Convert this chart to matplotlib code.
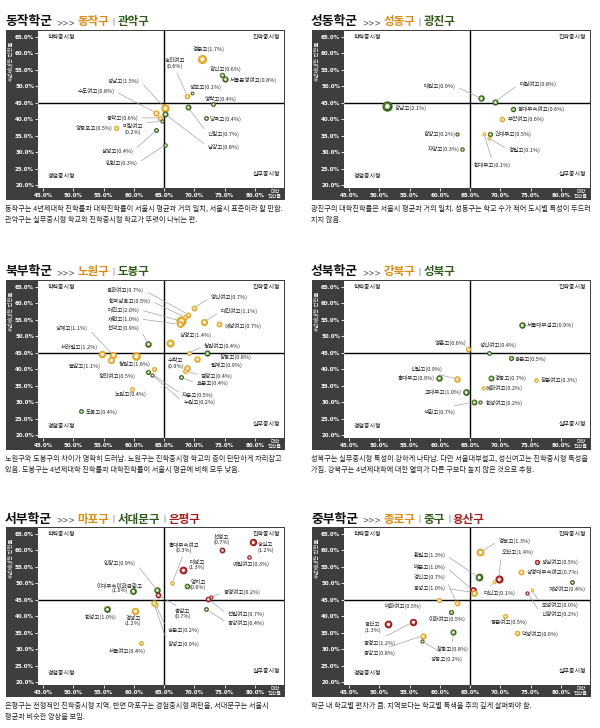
import matplotlib
matplotlib.use('Agg')
import matplotlib.pyplot as plt
from matplotlib.patches import Rectangle
from matplotlib import font_manager as fm

plt.rcParams['font.family'] = ['Noto Sans CJK KR', 'DejaVu Sans']

# ---------------- data ----------------
SEOUL_AVG_X = 65.0
SEOUL_AVG_Y = 45.0
X_TICKS = [45, 50, 55, 60, 65, 70, 75, 80]
Y_TICKS = [20, 25, 30, 35, 40, 45, 50, 55, 60, 65]
QUADRANTS = ['학력중시형', '진학중시형', '경험중시형', '실무중시형']
X_AXIS_LABEL = '대학\n진학률'
Y_AXIS_LABEL = '4년제대학 진학률'

P1_TITLE = '동작학군'
P1_DISTRICTS = ['동작구', '관악구']
P1_NAMES = ['경문고', '숭의여고', '광신고', '서울문영여고', '성보고', '영락고', '당곡고', '신림고',
            '남강고', '성남고', '수도여고', '동작고', '미림여고', '영등포고', '삼성고', '인헌고']
P1_PCT = [1.7, 0.6, 0.6, 0.8, 0.1, 0.4, 0.4, 0.7, 0.8, 1.5, 0.8, 0.6, 0.2, 0.5, 0.4, 0.3]
P1_X = [71.2, 68.8, 74.6, 75.1, 69.6, 73.0, 71.9, 68.9, 65.2, 65.1, 63.6, 64.4, 64.6, 57.1, 63.7, 65.1]
P1_Y = [58.4, 47.2, 53.4, 52.3, 47.9, 44.7, 40.3, 43.7, 41.5, 43.5, 42.0, 40.4, 39.4, 37.2, 36.6, 32.1]
P1_GROUP = [0, 0, 1, 1, 1, 1, 1, 1, 1, 0, 0, 0, 1, 0, 1, 1]
P1_CAPTION = ['동작구는 4년제대학 진학률과 대학진학률이 서울시 평균과 거의 일치, 서울시 표준이라 할 만함.',
              '관악구는 실무중시형 학교와 진학중시형 학교가 뚜렷이 나뉘는 편.']

P2_TITLE = '성동학군'
P2_DISTRICTS = ['성동구', '광진구']
P2_NAMES = ['광남고', '대원고', '대원여고', '동대부속여고', '무학여고', '광양고', '자양고', '건대부고',
            '한대부고', '경일고']
P2_PCT = [2.1, 0.9, 0.8, 0.6, 0.6, 0.2, 0.3, 0.5, 0.1, 0.1]
P2_X = [51.2, 66.8, 69.1, 72.0, 70.2, 62.9, 63.7, 68.3, 67.3, 68.1]
P2_Y = [44.0, 46.3, 45.3, 43.0, 40.2, 35.5, 31.1, 35.5, 35.5, 34.2]
P2_GROUP = [1, 1, 1, 1, 0, 1, 1, 1, 0, 0]
P2_CAPTION = ['광진구의 대학진학률은 서울시 평균과 거의 일치. 성동구는 학교 수가 적어 도시별 특성이 두드러',
              '지지 않음.']

P3_TITLE = '북부학군'
P3_DISTRICTS = ['노원구', '도봉구']
P3_NAMES = ['용화여고', '한국삼육고', '대진고', '재현고', '선덕고', '영신여고', '대진여고', '해성여고',
            '상명고', '상계고', '서라벌고', '불암고', '청원고', '정의여고', '노원고', '도봉고',
            '청원여고', '창동고', '월계고', '수락고', '염광고', '효문고', '자운고', '누원고']
P3_PCT = [0.7, 0.5, 2.0, 1.0, 0.9, 0.7, 1.1, 0.7, 1.4, 1.1, 1.2, 1.1, 1.6, 0.5, 0.4, 0.4,
          0.4, 0.8, 0.9, 0.9, 0.4, 0.4, 0.5, 0.2]
P3_X = [69.0, 68.4, 67.8, 67.6, 62.4, 70.0, 71.6, 74.1, 65.9, 56.6, 54.7, 56.3, 60.3, 63.3, 59.7, 51.2,
        69.1, 72.0, 70.5, 68.8, 68.5, 67.8, 62.4, 63.0]
P3_Y = [56.6, 55.8, 54.6, 53.6, 47.7, 58.7, 54.4, 53.6, 48.0, 44.3, 44.7, 42.7, 44.0, 40.1, 34.1, 27.2,
        45.0, 44.8, 43.2, 40.4, 39.6, 37.6, 39.2, 38.3]
P3_GROUP = [0, 0, 0, 0, 1, 0, 0, 0, 0, 0, 0, 0, 0, 0, 0, 1, 0, 1, 0, 0, 0, 1, 1, 1]
P3_CAPTION = ['노원구와 도봉구의 차이가 명확히 드러남. 노원구는 진학중시형 학교의 층이 탄탄하게 자리잡고',
              '있음. 도봉구는 4년제대학 진학률과 대학진학률이 서울시 평균에 비해 모두 낮음.']

P4_TITLE = '성북학군'
P4_DISTRICTS = ['강북구', '성북구']
P4_NAMES = ['서울대부설고', '영훈고', '성신여고', '용문고', '신일고', '홍대부고', '경동고', '창문여고',
            '혜화여고', '고대부고', '석관고', '한성여고']
P4_PCT = [0.9, 0.6, 0.4, 0.5, 0.9, 0.9, 0.7, 0.3, 0.2, 1.0, 0.7, 0.2]
P4_X = [73.5, 64.6, 68.2, 71.7, 62.8, 59.9, 68.4, 75.9, 67.1, 64.3, 65.6, 66.7]
P4_Y = [53.3, 46.2, 45.0, 43.5, 37.1, 37.4, 37.4, 36.6, 34.4, 33.0, 30.1, 29.9]
P4_GROUP = [1, 0, 1, 1, 0, 1, 1, 0, 0, 1, 1, 1]
P4_CAPTION = ['성북구는 실무중시형 특성이 강하게 나타남. 다만 서울대부설고, 성신여고는 진학중시형 특성을',
              '가짐. 강북구는 4년제대학에 대한 열의가 다른 구보다 높지 않은 것으로 추정.']

P5_TITLE = '서부학군'
P5_DISTRICTS = ['마포구', '서대문구', '은평구']
P5_NAMES = ['선정고', '숭실고', '예일여고', '홍대부속여고', '대성고', '명지고', '동명여고', '선일여고',
            '중앙여고', '인창고', '이대부속이화금란고', '충암고', '숭문고', '광성고', '한성고', '경성고',
            '서울여고']
P5_PCT = [0.7, 1.2, 0.3, 0.3, 1.3, 0.6, 0.2, 0.7, 0.4, 0.9, 1.0, 0.7, 0.2, 0.9, 1.0, 1.2, 0.4]
P5_X = [74.5, 79.6, 79.0, 66.3, 68.1, 68.7, 72.8, 72.3, 71.9, 63.8, 59.8, 64.0, 63.6, 63.3, 55.5, 60.2, 61.1]
P5_Y = [60.1, 62.4, 58.1, 50.0, 54.1, 49.3, 45.7, 45.2, 42.2, 48.0, 47.6, 46.4, 43.5, 43.9, 42.2, 41.7, 31.8]
P5_GROUP = [2, 2, 2, 0, 2, 1, 2, 2, 1, 1, 1, 2, 0, 0, 1, 0, 0]
P5_CAPTION = ['은평구는 전형적인 진학중시형 지역. 반면 마포구는 경험중시형 패턴을, 서대문구는 서울시',
              '평균과 비슷한 양상을 보임.']

P6_TITLE = '중부학군'
P6_DISTRICTS = ['종로구', '중구', '용산구']
P6_NAMES = ['경복고', '오산고', '성심여고', '상명대부속여고', '계성여고', '환일고', '배문고', '경신고',
            '동성고', '대신고', '보성여고', '신광여고', '배화여고', '이화여고', '용산고', '중경고',
            '중앙고', '성동고', '장충고', '풍문여고', '덕성여고']
P6_PCT = [1.3, 1.4, 0.5, 0.7, 0.4, 1.3, 1.0, 0.7, 1.0, 0.1, 0.0, 0.2, 0.5, 0.5, 1.3, 1.2,
          0.8, 0.2, 0.8, 0.5, 0.6]
P6_X = [66.7, 69.7, 76.0, 73.4, 81.8, 66.4, 65.4, 62.8, 65.6, 68.9, 75.2, 74.4, 59.8, 61.9, 51.5, 55.6,
        57.2, 57.0, 62.2, 70.8, 72.7]
P6_Y = [59.4, 51.3, 56.6, 53.5, 50.5, 51.8, 48.0, 43.9, 47.2, 50.3, 47.9, 47.2, 44.9, 41.4, 37.6, 38.3,
        34.1, 32.5, 35.1, 40.1, 34.8]
P6_GROUP = [0, 2, 2, 0, 1, 1, 2, 0, 0, 0, 0, 2, 0, 1, 2, 2, 0, 1, 1, 0, 0]
P6_CAPTION = ['학군 내 학교별 편차가 큼. 지역보다는 학교별 특색을 주의 깊게 살펴봐야 함.']

# ---------------- layout (label placement: x, y, ha, leader line, two lines) ----------------
P1_LBL = [(72.4, 61.2, 'center', 0, 0), (66.8, 56.9, 'center', 1, 1), (75.1, 55.3, 'center', 0, 0),
          (75.9, 51.8, 'left', 0, 0), (71.9, 49.8, 'center', 0, 0), (74.3, 46.3, 'center', 0, 0),
          (72.5, 40.2, 'left', 0, 0), (72.2, 35.6, 'left', 1, 0), (72.2, 31.7, 'left', 1, 0),
          (61.0, 51.6, 'right', 1, 0), (56.8, 48.5, 'right', 1, 0), (60.7, 40.4, 'right', 1, 0),
          (59.8, 36.9, 'center', 1, 1), (56.4, 37.2, 'right', 0, 0), (59.9, 30.4, 'right', 1, 0),
          (60.6, 26.6, 'right', 1, 0)]
P2_LBL = [(52.6, 43.4, 'left', 0, 0), (62.5, 50.1, 'right', 1, 0), (73.1, 50.6, 'left', 1, 0),
          (72.8, 43.0, 'left', 0, 0), (71.2, 40.1, 'left', 0, 0), (62.6, 35.4, 'right', 0, 0),
          (63.2, 30.9, 'right', 0, 0), (69.0, 35.4, 'left', 0, 0), (68.7, 26.1, 'center', 1, 0),
          (71.4, 30.7, 'left', 1, 0)]
P3_LBL = [(61.7, 64.0, 'right', 1, 0), (62.8, 60.8, 'right', 1, 0), (60.9, 58.1, 'right', 1, 0),
          (60.9, 55.3, 'right', 1, 0), (60.9, 52.5, 'right', 1, 0), (72.7, 61.8, 'left', 1, 0),
          (74.4, 57.6, 'left', 1, 0), (75.0, 53.2, 'left', 0, 0), (67.5, 50.4, 'left', 0, 0),
          (52.4, 52.4, 'right', 1, 0), (54.0, 46.8, 'right', 0, 0), (54.5, 41.0, 'right', 0, 0),
          (60.1, 41.6, 'center', 0, 0), (57.3, 38.0, 'center', 0, 0), (59.4, 32.6, 'center', 0, 0),
          (52.1, 27.1, 'left', 0, 0), (71.6, 47.1, 'left', 1, 0), (74.1, 43.6, 'left', 0, 0),
          (72.7, 41.3, 'left', 0, 0), (66.9, 41.7, 'center', 0, 1), (71.1, 38.0, 'left', 1, 0),
          (70.4, 35.6, 'left', 1, 0), (68.0, 32.3, 'left', 1, 0), (68.2, 29.9, 'left', 1, 0)]
P4_LBL = [(74.4, 53.3, 'left', 0, 0), (61.7, 48.0, 'center', 0, 0), (69.7, 47.3, 'center', 0, 0),
          (72.4, 43.0, 'left', 0, 0), (57.8, 40.2, 'center', 1, 0), (59.2, 37.4, 'right', 0, 0),
          (69.0, 37.4, 'left', 0, 0), (76.6, 36.6, 'left', 0, 0), (67.6, 34.4, 'left', 0, 0),
          (63.6, 33.0, 'right', 0, 0), (60.0, 27.0, 'center', 1, 0), (67.5, 29.7, 'left', 0, 0)]
P5_LBL = [(74.5, 63.1, 'center', 0, 1), (80.4, 60.9, 'left', 0, 1), (79.3, 56.0, 'center', 0, 0),
          (68.3, 60.9, 'center', 1, 1), (69.1, 55.8, 'left', 0, 1), (69.2, 49.5, 'left', 0, 1),
          (74.8, 47.4, 'left', 1, 0), (75.5, 40.6, 'left', 1, 0), (75.5, 37.9, 'left', 1, 0),
          (60.3, 56.1, 'right', 1, 0), (57.6, 48.6, 'center', 0, 1), (68.0, 40.6, 'center', 1, 1),
          (65.6, 35.6, 'left', 1, 0), (65.6, 31.7, 'left', 1, 0), (54.6, 39.9, 'center', 0, 0),
          (59.9, 38.6, 'center', 0, 1), (58.9, 29.3, 'center', 0, 0)]
P6_LBL = [(69.7, 62.9, 'left', 1, 0), (70.2, 59.4, 'left', 1, 0), (76.8, 56.6, 'left', 0, 0),
          (74.3, 53.5, 'left', 0, 0), (81.1, 48.4, 'center', 0, 0), (60.9, 58.7, 'right', 1, 0),
          (60.9, 55.1, 'right', 1, 0), (60.9, 51.8, 'right', 1, 0), (60.9, 48.5, 'right', 1, 0),
          (67.3, 47.2, 'left', 1, 0), (76.8, 43.5, 'left', 1, 0), (76.8, 40.6, 'left', 1, 0),
          (57.0, 43.2, 'right', 0, 0), (58.1, 39.1, 'left', 0, 0), (48.9, 36.6, 'center', 0, 1),
          (50.1, 32.0, 'center', 1, 0), (50.1, 28.8, 'center', 1, 0), (61.1, 27.0, 'center', 1, 0),
          (62.1, 30.0, 'center', 1, 0), (71.5, 38.1, 'center', 0, 0), (73.5, 34.6, 'left', 0, 0)]

PANELS = [
    (P1_TITLE, P1_DISTRICTS, P1_NAMES, P1_PCT, P1_X, P1_Y, P1_GROUP, P1_CAPTION, P1_LBL, [0, 1]),
    (P2_TITLE, P2_DISTRICTS, P2_NAMES, P2_PCT, P2_X, P2_Y, P2_GROUP, P2_CAPTION, P2_LBL, [0, 1]),
    (P3_TITLE, P3_DISTRICTS, P3_NAMES, P3_PCT, P3_X, P3_Y, P3_GROUP, P3_CAPTION, P3_LBL, [0, 1]),
    (P4_TITLE, P4_DISTRICTS, P4_NAMES, P4_PCT, P4_X, P4_Y, P4_GROUP, P4_CAPTION, P4_LBL, [0, 1]),
    (P5_TITLE, P5_DISTRICTS, P5_NAMES, P5_PCT, P5_X, P5_Y, P5_GROUP, P5_CAPTION, P5_LBL, [0, 1, 2]),
    (P6_TITLE, P6_DISTRICTS, P6_NAMES, P6_PCT, P6_X, P6_Y, P6_GROUP, P6_CAPTION, P6_LBL, [0, 1, 2]),
]
ORIGINS = [(6, 30), (312, 30), (6, 280), (312, 280), (6, 527), (312, 527)]

GROUP_COLORS = ['#E3A41C', '#356619', '#A3191C']
INNER_COLORS = ['#F2C453', '#7FAA3C', '#D0453F']
TITLE_COLORS = ['#E08B10', '#2E5C17', '#A31C1C']
DARK = '#3e3e3e'

W, H = 600, 728
fig = plt.figure(figsize=(6, 7.28), dpi=100)
fig.patch.set_facecolor('white')
renderer = fig.canvas.get_renderer()

# condensed bold font for the tick labels if one is installed; size fitted to a target width
_narrow = [f for f in fm.fontManager.ttflist
           if ('Narrow' in f.name or 'Condensed' in f.fname) and f.weight in ('bold', 700)]
if _narrow:
    TICK_FP = fm.FontProperties(fname=_narrow[0].fname, size=10)
else:
    TICK_FP = fm.FontProperties(family='Liberation Sans', weight='bold', size=10)
_t = fig.text(0, 0, '65.0%', fontproperties=TICK_FP)
_w = _t.get_window_extent(renderer).width
_t.remove()
TICK_FP.set_size(min(6.0, 10 * 19.0 / _w))


def fx(px):
    return px / W


def fy(py):
    return 1 - py / H


def draw_title(FL, FT, title, districts, cols):
    y = fy(FT - 8)
    x = FL - 1
    t = fig.text(fx(x), y, title, fontsize=9.2, fontweight='bold', color='#111111', ha='left', va='center')
    x += t.get_window_extent(renderer).width + 4
    t = fig.text(fx(x), y - 0.001, '>>>', fontsize=5.5, color='#555555', ha='left', va='center',
                 family=['DejaVu Sans'])
    x += t.get_window_extent(renderer).width + 3
    for i, d in enumerate(districts):
        if i > 0:
            t = fig.text(fx(x), y, '|', fontsize=5, color='#444444', ha='left', va='center')
            x += t.get_window_extent(renderer).width + 3
        t = fig.text(fx(x), y, d, fontsize=8.3, fontweight='bold', color=TITLE_COLORS[cols[i]],
                     ha='left', va='center')
        x += t.get_window_extent(renderer).width + 3


def make_panel(FL, FT, spec):
    title, districts, names, pct, xs, ys, grp, caption, lbl, cols = spec
    fig.add_artist(Rectangle((fx(FL), fy(FT + 170)), 279 / W, 170 / H, transform=fig.transFigure,
                             facecolor=DARK, edgecolor='none', zorder=-1))
    ax = fig.add_axes([fx(FL + 32), fy(FT + 158), 246 / W, 157 / H])
    ax.set_facecolor('white')
    ax.set_xlim(44.17, 84.8)
    ax.set_ylim(19.1, 66.8)
    for s in ax.spines.values():
        s.set_visible(False)
    ax.set_xticks(X_TICKS)
    ax.set_xticklabels([f'{v:.1f}%' for v in X_TICKS])
    ax.set_yticks(Y_TICKS)
    ax.set_yticklabels([f'{v:.1f}%' for v in Y_TICKS])
    ax.tick_params(axis='both', direction='out', length=2, width=0.6, color='white',
                   labelcolor='white', pad=0.8)
    ax.tick_params(axis='x', pad=1.3)
    for t in ax.get_xticklabels() + ax.get_yticklabels():
        t.set_fontproperties(TICK_FP)

    ax.axvline(SEOUL_AVG_X, color='black', lw=1.0, zorder=1)
    ax.axhline(SEOUL_AVG_Y, color='black', lw=1.0, zorder=1)

    qkw = dict(transform=ax.transAxes, fontsize=4.3, color='#1a1a1a', va='center')
    ax.text(0.04, 0.958, QUADRANTS[0], ha='left', **qkw)
    ax.text(0.985, 0.958, QUADRANTS[1], ha='right', **qkw)
    ax.text(0.04, 0.075, QUADRANTS[2], ha='left', **qkw)
    ax.text(0.985, 0.085, QUADRANTS[3], ha='right', **qkw)

    fig.text(fx(FL + 5), fy(FT + 31), Y_AXIS_LABEL, rotation=90, color='white', fontsize=3.9,
             ha='center', va='center')
    fig.text(fx(FL + 269), fy(FT + 164), X_AXIS_LABEL, color='white', fontsize=3.6,
             ha='center', va='center', linespacing=0.95)

    # points (largest first so small ones stay visible)
    order = sorted(range(len(names)), key=lambda i: -pct[i])
    for i in order:
        diam = 3.6 + 3.2 * pct[i]
        thick = 1.0 + 0.8 * pct[i]
        d_pt = (diam - thick) * 0.72
        ax.scatter([xs[i]], [ys[i]], s=d_pt ** 2, facecolors='white',
                   edgecolors=GROUP_COLORS[grp[i]], linewidths=thick * 0.72, zorder=3)
        if pct[i] >= 0.5:
            ax.scatter([xs[i]], [ys[i]], s=(d_pt * 0.75) ** 2, facecolors='none',
                       edgecolors=INNER_COLORS[grp[i]], linewidths=0.35, zorder=3.1)

    for i, nm in enumerate(names):
        lx, ly, ha, leader, wrap = lbl[i]
        txt = f'{nm}\n({pct[i]:.1f}%)' if wrap else f'{nm}({pct[i]:.1f}%)'
        kw = dict(xy=(xs[i], ys[i]), xytext=(lx, ly), textcoords='data', fontsize=4.0,
                  color='#222222', ha=ha, va='center', multialignment='center',
                  linespacing=1.0, zorder=4)
        if leader:
            if ha == 'right':
                rp = (1.0, 0.5)
            elif ha == 'left':
                rp = (0.0, 0.5)
            else:
                rp = (0.5, 0.0) if ly > ys[i] else (0.5, 1.0)
            kw['arrowprops'] = dict(arrowstyle='-', color='#9a9a9a', lw=0.45,
                                    shrinkA=1, shrinkB=2, relpos=rp)
        ax.annotate(txt, **kw)

    draw_title(FL, FT, title, districts, cols)
    for k, line in enumerate(caption):
        fig.text(fx(FL - 1), fy(FT + 179 + 11 * k), line, fontsize=5.15, color='#222222',
                 ha='left', va='center')


for (FL, FT), spec in zip(ORIGINS, PANELS):
    make_panel(FL, FT, spec)

fig.savefig('out.png', dpi=100, facecolor='white')
